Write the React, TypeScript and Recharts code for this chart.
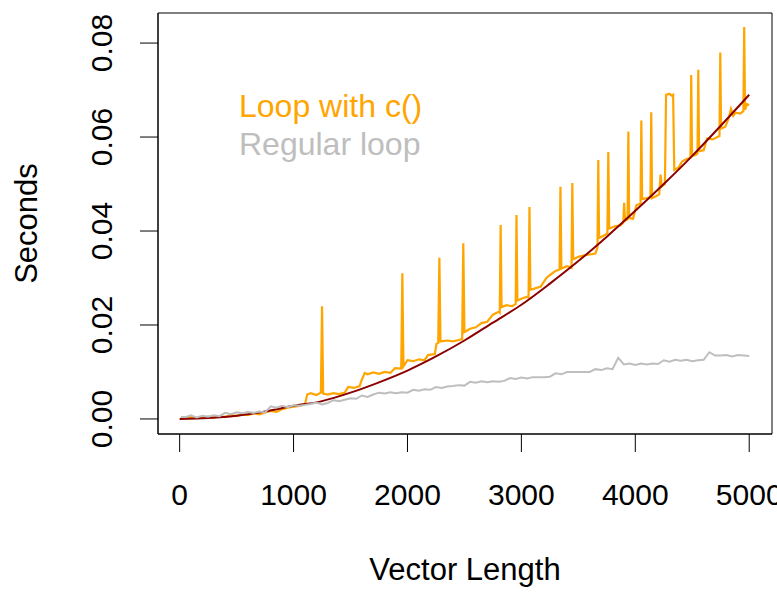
import { LineChart, Line, XAxis, YAxis, ReferenceArea, Legend } from "recharts";

const FONT = '"Liberation Sans", Arial, Helvetica, sans-serif';

const xTicks = [0, 1000, 2000, 3000, 4000, 5000];
const yTicks = [0, 0.02, 0.04, 0.06, 0.08];
const seriesNames = ["Loop with c()", "Regular loop"];
const seriesColors = ["#FFA500", "#BEBEBE"];
const fitColor = "#8B0000";

// [vector length, seconds] for the growing loop
const loopTimes: [number, number][] = [
  [10, 0.0003], [50, 0.0002], [100, 0.0004], [150, 0.0002], [200, 0.0003],
  [250, 0.0005], [300, 0.0003], [350, 0.0006], [400, 0.0004], [450, 0.0008],
  [500, 0.0006], [550, 0.001], [600, 0.0008], [650, 0.0012], [700, 0.001],
  [750, 0.0014], [800, 0.0017], [850, 0.0015], [900, 0.0021], [950, 0.0024],
  [1000, 0.0026], [1050, 0.0028], [1100, 0.0031], [1120, 0.0052], [1150, 0.0055],
  [1200, 0.0051], [1240, 0.0056], [1250, 0.024], [1260, 0.0054], [1300, 0.0052],
  [1350, 0.0055], [1400, 0.0053], [1450, 0.0056], [1480, 0.0068], [1530, 0.0066],
  [1580, 0.007], [1600, 0.0084], [1625, 0.0098], [1650, 0.0095], [1700, 0.0099],
  [1750, 0.0096], [1800, 0.01], [1850, 0.0098], [1890, 0.0108], [1945, 0.0107],
  [1955, 0.031], [1965, 0.0112], [2000, 0.0125], [2050, 0.0123], [2100, 0.0127],
  [2150, 0.0125], [2180, 0.0136], [2240, 0.0138], [2255, 0.016], [2270, 0.0162],
  [2280, 0.0343], [2290, 0.0165], [2350, 0.0167], [2400, 0.0165], [2450, 0.0168],
  [2480, 0.017], [2490, 0.0374], [2500, 0.0185], [2550, 0.0192], [2600, 0.0195],
  [2650, 0.0204], [2700, 0.0207], [2750, 0.0222], [2800, 0.0228], [2810, 0.0226],
  [2818, 0.0413], [2826, 0.0238], [2870, 0.0242], [2920, 0.024], [2950, 0.0245],
  [2957, 0.0434], [2965, 0.0252], [3000, 0.0256], [3050, 0.026], [3063, 0.0258],
  [3071, 0.0451], [3079, 0.0275], [3120, 0.0278], [3170, 0.0282], [3220, 0.03],
  [3260, 0.0308], [3300, 0.0315], [3335, 0.0318], [3343, 0.0494], [3351, 0.032],
  [3400, 0.0325], [3440, 0.0322], [3447, 0.0502], [3455, 0.034], [3500, 0.0345],
  [3550, 0.0348], [3600, 0.035], [3650, 0.0352], [3668, 0.0365], [3675, 0.0551],
  [3682, 0.0385], [3720, 0.039], [3755, 0.0395], [3763, 0.0568], [3771, 0.0405],
  [3820, 0.041], [3870, 0.0412], [3895, 0.0418], [3902, 0.046], [3910, 0.0422],
  [3932, 0.0425], [3939, 0.0612], [3946, 0.0428], [3980, 0.0426], [4010, 0.0455],
  [4046, 0.0458], [4053, 0.0635], [4060, 0.0468], [4100, 0.047], [4133, 0.0472],
  [4140, 0.0653], [4147, 0.047], [4180, 0.0474], [4210, 0.0478], [4222, 0.052],
  [4232, 0.0495], [4260, 0.05], [4270, 0.069], [4300, 0.0692], [4320, 0.0688],
  [4332, 0.069], [4342, 0.053], [4380, 0.0535], [4410, 0.0548], [4450, 0.0553],
  [4484, 0.0556], [4491, 0.0732], [4498, 0.056], [4530, 0.0562], [4546, 0.0565],
  [4553, 0.0743], [4560, 0.057], [4600, 0.0572], [4630, 0.0597], [4680, 0.0595],
  [4720, 0.06], [4739, 0.0602], [4746, 0.078], [4753, 0.0618], [4790, 0.0622],
  [4820, 0.064], [4840, 0.066], [4860, 0.0645], [4880, 0.0652], [4920, 0.065],
  [4949, 0.0655], [4956, 0.0834], [4963, 0.0658], [4980, 0.067], [5000, 0.0668],
];

// [vector length, seconds] for the preallocated loop
const regularTimes: [number, number][] = [
  [10, 0.0004], [50, 0.0004], [100, 0.0008], [150, 0.0003], [200, 0.0007],
  [250, 0.0005], [300, 0.0008], [350, 0.0006], [400, 0.0013], [450, 0.001],
  [500, 0.0014], [550, 0.0012], [600, 0.0015], [650, 0.0013], [700, 0.0016],
  [750, 0.0014], [800, 0.0027], [850, 0.0024], [900, 0.0028], [950, 0.0025],
  [1000, 0.0029], [1050, 0.0028], [1100, 0.003], [1150, 0.0032], [1200, 0.0035],
  [1250, 0.0031], [1300, 0.0034], [1350, 0.004], [1400, 0.0038], [1450, 0.0041],
  [1500, 0.0044], [1550, 0.0043], [1600, 0.005], [1650, 0.0047], [1700, 0.0052],
  [1750, 0.0056], [1800, 0.0054], [1850, 0.0057], [1900, 0.0055], [1950, 0.0057],
  [2000, 0.0056], [2050, 0.0062], [2100, 0.006], [2150, 0.0063], [2200, 0.0062],
  [2250, 0.0068], [2300, 0.0066], [2350, 0.0069], [2400, 0.007], [2450, 0.0072],
  [2500, 0.0071], [2550, 0.0079], [2600, 0.0077], [2650, 0.008], [2700, 0.0078],
  [2750, 0.008], [2800, 0.0079], [2850, 0.0081], [2900, 0.0087], [2950, 0.0085],
  [3000, 0.0088], [3050, 0.0086], [3100, 0.0089], [3150, 0.0089], [3200, 0.0089],
  [3250, 0.009], [3300, 0.0097], [3350, 0.0095], [3400, 0.01], [3450, 0.01],
  [3500, 0.01], [3550, 0.01], [3600, 0.01], [3650, 0.0106], [3700, 0.0104],
  [3750, 0.0108], [3800, 0.0106], [3850, 0.013], [3900, 0.0116], [3950, 0.0118],
  [4000, 0.0115], [4050, 0.0118], [4100, 0.0116], [4150, 0.0118], [4200, 0.0117],
  [4250, 0.0125], [4300, 0.0122], [4350, 0.0126], [4400, 0.0124], [4450, 0.0126],
  [4500, 0.0123], [4550, 0.0125], [4600, 0.0126], [4650, 0.0142], [4700, 0.0135],
  [4750, 0.0135], [4800, 0.0136], [4850, 0.0133], [4900, 0.0136], [4950, 0.0135],
  [5000, 0.0134],
];

// fitted curve through the growing loop
const fitLengths = [0, 250, 500, 750, 1000, 1250, 1500, 1750, 2000, 2250, 2500,
  2750, 3000, 3250, 3500, 3750, 4000, 4250, 4500, 4750, 5000];
const fitSeconds = [0, 0.0002, 0.0007, 0.0016, 0.0028, 0.0038, 0.0056, 0.0078,
  0.0103, 0.0133, 0.0167, 0.0205, 0.0243, 0.0288, 0.0336, 0.0388, 0.0443, 0.05,
  0.056, 0.0624, 0.069];

const loopData = loopTimes.map(([n, s]) => ({ n, s }));
const regularData = regularTimes.map(([n, s]) => ({ n, s }));
const fitData = fitLengths.map((n, i) => ({ n, s: fitSeconds[i] }));

const X_DOMAIN: [number, number] = [-190, 5200];
const Y_DOMAIN: [number, number] = [-0.0032, 0.0864];

function XTick({ x, y, payload }: any) {
  return (
    <text x={x} y={y + 53} textAnchor="middle" fontSize={30} fontFamily={FONT} fill="#000">
      {payload.value}
    </text>
  );
}

function YTick({ x, y, payload }: any) {
  const tx = x - 28;
  return (
    <text
      x={tx}
      y={y}
      transform={`rotate(-90, ${tx}, ${y})`}
      textAnchor="middle"
      fontSize={30}
      fontFamily={FONT}
      fill="#000"
    >
      {Number(payload.value).toFixed(2)}
    </text>
  );
}

function LegendBox() {
  return (
    <div style={{ fontFamily: FONT, fontSize: 32, lineHeight: "38px", whiteSpace: "nowrap" }}>
      {seriesNames.map((name, i) => (
        <div key={name} style={{ color: seriesColors[i] }}>
          {name}
        </div>
      ))}
    </div>
  );
}

export default function App() {
  return (
    <div style={{ position: "absolute", left: 0, top: 0, background: "#fff" }}>
      <LineChart width={777} height={592} margin={{ top: 13, right: 5, left: 0, bottom: 0 }}>
        <XAxis
          dataKey="n"
          type="number"
          domain={X_DOMAIN}
          ticks={xTicks}
          allowDataOverflow
          height={158}
          tickSize={18}
          tickMargin={0}
          stroke="#000"
          tick={<XTick />}
          label={(props: any) => {
            const vb = props.viewBox;
            return (
              <text
                x={vb.x + vb.width / 2}
                y={vb.y + 146}
                textAnchor="middle"
                fontSize={31}
                fontFamily={FONT}
                fill="#000"
              >
                Vector Length
              </text>
            );
          }}
        />
        <YAxis
          type="number"
          domain={Y_DOMAIN}
          ticks={yTicks}
          allowDataOverflow
          width={158}
          tickSize={18}
          tickMargin={0}
          stroke="#000"
          tick={<YTick />}
          label={(props: any) => {
            const vb = props.viewBox;
            const cy = vb.y + vb.height / 2;
            return (
              <text
                x={37}
                y={cy}
                transform={`rotate(-90, 37, ${cy})`}
                textAnchor="middle"
                fontSize={31}
                fontFamily={FONT}
                fill="#000"
              >
                Seconds
              </text>
            );
          }}
        />
        <ReferenceArea
          x1={X_DOMAIN[0]}
          x2={X_DOMAIN[1]}
          y1={Y_DOMAIN[0]}
          y2={Y_DOMAIN[1]}
          fill="none"
          stroke="#000"
          strokeWidth={1}
          ifOverflow="visible"
        />
        <Legend
          layout="horizontal"
          verticalAlign="middle"
          align="center"
          wrapperStyle={{ left: 239, top: 87, width: "auto", height: "auto" }}
          content={() => <LegendBox />}
        />
        <Line
          data={loopData}
          dataKey="s"
          type="linear"
          stroke={seriesColors[0]}
          strokeWidth={2.2}
          dot={false}
          isAnimationActive={false}
        />
        <Line
          data={fitData}
          dataKey="s"
          type="monotone"
          stroke={fitColor}
          strokeWidth={2}
          dot={false}
          isAnimationActive={false}
        />
        <Line
          data={regularData}
          dataKey="s"
          type="linear"
          stroke={seriesColors[1]}
          strokeWidth={2}
          dot={false}
          isAnimationActive={false}
        />
      </LineChart>
    </div>
  );
}
